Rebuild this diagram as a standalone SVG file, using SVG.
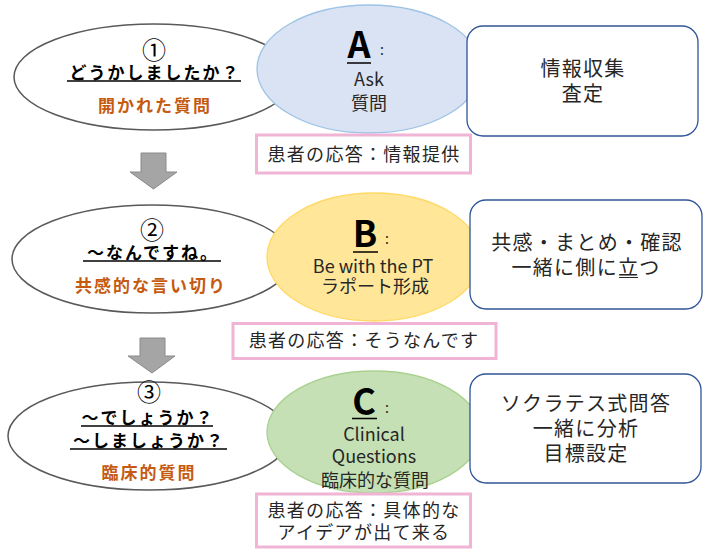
<svg xmlns="http://www.w3.org/2000/svg" width="704" height="549" viewBox="0 0 704 549">
<style>
text{font-family:"Noto Sans CJK JP","Noto Sans",sans-serif;text-anchor:middle}
.q{fill:#fff;stroke:#595959;stroke-width:1.5}
.b{font-weight:bold;font-size:17px;fill:#000;letter-spacing:2px}
.o{font-weight:bold;font-size:17px;fill:#c55a11;letter-spacing:2px}
.num{font-size:24px;fill:#000}
.ul{stroke:#000;stroke-width:1.5}
.big{font-weight:bold;font-size:36px;fill:#000}
.col{font-size:18px;fill:#262626}
.box{fill:#fff;stroke:#2f5597;stroke-width:1.3}
.bt{font-size:20px;fill:#262626;letter-spacing:1.3px}
.pk{fill:#fff;stroke:#f0b5d5;stroke-width:3}
.pt{font-size:18px;fill:#262626;letter-spacing:1.3px}
.arr{fill:#a5a5a5;stroke:#8a8a8a;stroke-width:1}
</style>
<g id="connectors">
<polygon class="arr" points="141,153 166,153 166,172 177,172 153.5,189 130,172 141,172"/>
<polygon class="arr" points="140,338 165,338 165,356 175,356 152,373 128,356 140,356"/>
</g>
<g id="q1">
<ellipse class="q" cx="154" cy="77" rx="140" ry="53"/>
<text class="num" x="154" y="58.5">①</text>
<text class="b" x="155" y="78.5">どうかしましたか？</text>
<line class="ul" x1="67" y1="81" x2="241" y2="81"/>
<text class="o" x="155" y="111.5">開かれた質問</text>
</g>
<g id="q2">
<ellipse class="q" cx="152" cy="259" rx="140" ry="54"/>
<text class="num" x="152" y="238.5">②</text>
<text class="b" x="153" y="258.5">～なんですね。</text>
<line class="ul" x1="83" y1="261" x2="221" y2="261"/>
<text class="o" x="151" y="291.5">共感的な言い切り</text>
</g>
<g id="q3">
<ellipse class="q" cx="149" cy="436" rx="141" ry="54"/>
<text class="num" x="149" y="400.5">③</text>
<text class="b" x="148" y="423.5">～でしょうか？</text>
<line class="ul" x1="81" y1="426" x2="213" y2="426"/>
<text class="b" x="149" y="446.5">～しましょうか？</text>
<line class="ul" x1="70" y1="449" x2="227" y2="449"/>
<text class="o" x="149" y="478.5">臨床的質問</text>
</g>
<g id="A">
<ellipse cx="369" cy="69" rx="112" ry="64" fill="#dae3f3" stroke="#9dc3e6" stroke-width="1.3"/>
<text class="big" x="359" y="58">A</text>
<line class="ul" x1="347" y1="63" x2="371" y2="63" stroke-width="2"/>
<text class="col" x="382" y="55" style="font-size:14px">:</text>
<text class="col" x="369" y="86">Ask</text>
<text class="col" x="369" y="110">質問</text>
</g>
<g id="Abox">
<rect class="box" x="467" y="26" width="231" height="110" rx="16"/>
<text class="bt" x="583" y="75.6">情報収集</text>
<text class="bt" x="583" y="100.6">査定</text>
</g>
<g id="Aresp">
<rect class="pk" x="256.5" y="135" width="214" height="38"/>
<text class="pt" x="364" y="161">患者の応答：情報提供</text>
</g>
<g id="B">
<ellipse cx="374" cy="257" rx="107" ry="64" fill="#ffe699" stroke="#ffd966" stroke-width="1.3"/>
<text class="big" x="365" y="247">B</text>
<line class="ul" x1="353" y1="252" x2="378" y2="252" stroke-width="2"/>
<text class="col" x="387" y="244" style="font-size:14px">:</text>
<text class="col" x="373" y="272.5">Be with the PT</text>
<text class="col" x="375" y="293">ラポート形成</text>
</g>
<g id="Bbox">
<rect class="box" x="470" y="200" width="232" height="109" rx="16"/>
<text class="bt" x="587" y="249.6">共感・まとめ・確認</text>
<text class="bt" x="586" y="275">一緒に側に立つ</text>
<line x1="619" y1="277.5" x2="638" y2="277.5" stroke="#262626" stroke-width="1"/>
</g>
<g id="Bresp">
<rect class="pk" x="233" y="323.5" width="263" height="35"/>
<text class="pt" x="364" y="347">患者の応答：そうなんです</text>
</g>
<g id="C">
<ellipse cx="374" cy="432" rx="107" ry="61" fill="#c5e0b4" stroke="#a9d18e" stroke-width="1.3"/>
<text class="big" x="364" y="415">C</text>
<line class="ul" x1="352" y1="418.5" x2="377" y2="418.5" stroke-width="2"/>
<text class="col" x="387" y="413" style="font-size:14px">:</text>
<text class="col" x="374" y="441">Clinical</text>
<text class="col" x="374" y="463">Questions</text>
<text class="col" x="375" y="487">臨床的な質問</text>
</g>
<g id="Cbox">
<rect class="box" x="470" y="374" width="231" height="109" rx="16"/>
<text class="bt" x="586" y="410.6">ソクラテス式問答</text>
<text class="bt" x="586" y="435.6">一緒に分析</text>
<text class="bt" x="586" y="460.6">目標設定</text>
</g>
<g id="Cresp">
<rect class="pk" x="256.5" y="494" width="214" height="53"/>
<text class="pt" x="364" y="517">患者の応答：具体的な</text>
<text class="pt" x="364" y="539">アイデアが出て来る</text>
</g>
</svg>
